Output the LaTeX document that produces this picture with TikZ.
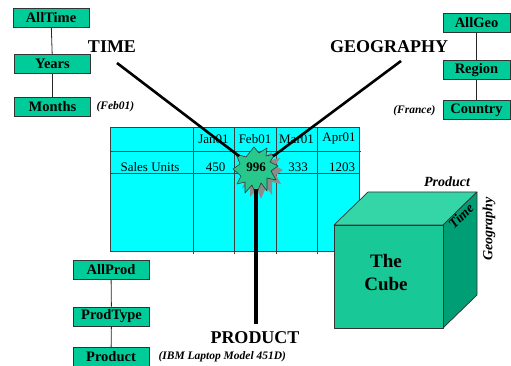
\documentclass[tikz,border=0pt]{standalone}
\usepackage{fontspec}
\setmainfont{Liberation Serif}

\definecolor{boxgreen}{RGB}{0,204,153}
\definecolor{tablecyan}{RGB}{0,255,255}
\definecolor{cubefront}{RGB}{24,200,150}
\definecolor{cubetop}{RGB}{52,214,168}
\definecolor{cubeside}{RGB}{0,158,116}
\definecolor{starfill}{RGB}{40,200,140}

\tikzset{
  levelbox/.style={draw=black!80, line width=0.6pt, fill=boxgreen, inner sep=0pt,
    minimum height=19pt, font=\bfseries\fontsize{14.5}{16}\selectfont},
  leftbox/.style={levelbox, minimum width=76pt},
  rightbox/.style={levelbox, minimum width=67pt},
  treelink/.style={draw=black!85, line width=0.8pt},
  dimlabel/.style={font=\bfseries\fontsize{18}{20}\selectfont},
  memberlabel/.style={font=\bfseries\itshape\fontsize{11.5}{13}\selectfont},
  cell/.style={font=\fontsize{13}{15}\selectfont},
  grid/.style={draw=black!75, line width=0.6pt},
  dimline/.style={line width=2.6pt},
  cubeedge/.style={draw=black!80, line width=0.7pt, line join=round},
  cubelabel/.style={inner sep=0pt, font=\bfseries\itshape\fontsize{14}{16}\selectfont}
}

% outline of the highlight burst, centred on the origin
\def\burst{(-2,-23) -- (3,-17) -- (11,-22) -- (10,-14) -- (19,-16) -- (14,-8)
  -- (22,-4) -- (15,1) -- (20,10) -- (11,8) -- (11,21) -- (5,13) -- (0,25)
  -- (-4,15) -- (-11,23) -- (-11,12) -- (-19,14) -- (-15,6) -- (-23,-1)
  -- (-16,-6) -- (-20,-16) -- (-10,-13) -- cycle}

\begin{document}
\begin{tikzpicture}[x=1pt, y=-1pt]
\useasboundingbox (0,0) rectangle (511,366);
\clip (0,0) rectangle (511,366);

% ---- spreadsheet ----
\fill[tablecyan] (110,127) rectangle (359,251);
\draw[grid] (110,127) rectangle (359,251);
\draw[grid] (110,151) -- (361,151);
\draw[grid] (110,173) -- (359,173);
\foreach \x in {193,234,276,317} \draw[grid] (\x,127) -- (\x,254);

\node[cell] (jan) at (213.5,139) {Jan01};
\node[cell] (feb) at (255,139) {Feb01};
\node[cell] (mar) at (296.5,139) {Mar01};
\node[cell] (apr) at (339,139) {Apr01};
\node[cell] (sales) at (150,167) {Sales Units};
\node[cell] (v450) at (215.5,167) {450};
\node[cell] (v333) at (298,167) {333};
\node[cell] (v1203) at (342,167) {1203};

% ---- highlighted cell ----
\begin{scope}[shift={(261,174)}]
  \fill[black!45] \burst;
\end{scope}
\begin{scope}[shift={(256,170)}]
  \filldraw[fill=starfill, draw=black!80, line width=0.6pt, line join=round] \burst;
\end{scope}
\node[circle, minimum size=42pt, inner sep=0pt] (star) at (256,169) {};
\node[font=\bfseries\fontsize{13}{15}\selectfont] (v996) at (256,167) {996};

% ---- dimension lines ----
\coordinate (timeend) at (117,63);
\coordinate (geoend) at (401,61);
\coordinate (prodend) at (256,324);
\draw[dimline] (timeend) -- (star);
\draw[dimline] (geoend) -- (star);
\draw[line width=4pt] (star.south) ++(0,-1) -- (prodend);

\node[dimlabel] (timelbl) at (112,47) {TIME};
\node[dimlabel] (geolbl) at (389,47) {GEOGRAPHY};
\node[dimlabel] (prodlbl) at (255,338) {PRODUCT};

% ---- time hierarchy ----
\node[leftbox] (alltime) at (51,17.5) {AllTime};
\node[leftbox] (years) at (52.5,64) {Years};
\node[leftbox] (months) at (52.5,106.5) {Months};
\draw[treelink] (alltime) -- (years);
\draw[treelink] (years) -- (months);
\node[memberlabel, anchor=west] (feb01) at (93,107) {(Feb01)};

% ---- geography hierarchy ----
\node[rightbox] (allgeo) at (476.5,23) {AllGeo};
\node[rightbox] (region) at (476.5,70) {Region};
\node[rightbox] (country) at (476.5,110) {Country};
\draw[treelink] (allgeo) -- (region);
\draw[treelink] (region) -- (country);
\node[memberlabel, anchor=east] (france) at (439,111) {(France)};

% ---- product hierarchy ----
\node[leftbox] (allprod) at (111,270) {AllProd};
\node[leftbox] (prodtype) at (111.5,316.5) {ProdType};
\node[leftbox] (product) at (111,357) {Product};
\draw[treelink] (allprod) -- (prodtype);
\draw[treelink] (prodtype) -- (product);
\node[memberlabel, anchor=west] (ibm) at (155,357) {(IBM Laptop Model 451D)};

% ---- cube ----
\filldraw[cubeedge, fill=cubetop] (334,225) -- (368,192) -- (477,192) -- (443,225) -- cycle;
\filldraw[cubeedge, fill=cubeside] (443,225) -- (477,192) -- (477,295) -- (443,328) -- cycle;
\filldraw[cubeedge, fill=cubefront] (334,225) rectangle (443,328);
\node[font=\bfseries\fontsize{19}{23}\selectfont, align=center] (cubename) at (386,273) {The\\Cube};
\node[cubelabel] (cubeprod) at (447,182) {Product};
\node[cubelabel, rotate=45] (cubetime) at (461,216) {Time};
\node[cubelabel, rotate=90] (cubegeo) at (489,229) {Geography};
\end{tikzpicture}
\end{document}
